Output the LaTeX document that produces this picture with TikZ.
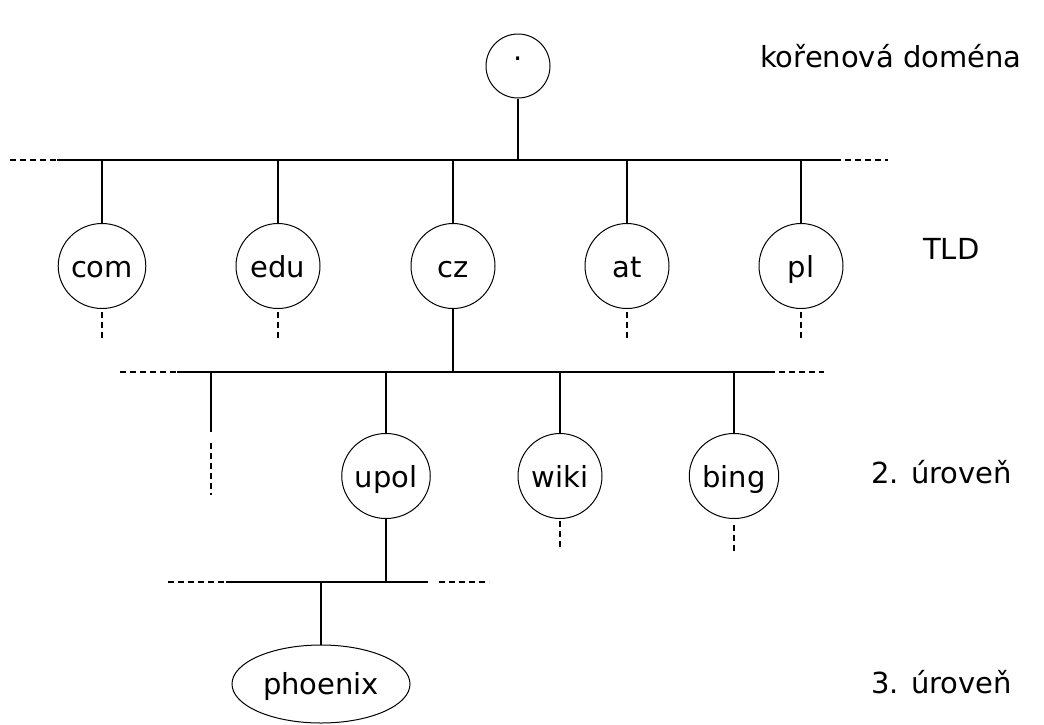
\documentclass[tikz,border=0pt]{standalone}
\usepackage{fontspec}
\setmainfont{DejaVu Sans}
\usetikzlibrary{shapes.geometric}
\begin{document}
\begin{tikzpicture}[x=1pt,y=-1pt,
  dom/.style={draw, ellipse, line width=1pt, minimum width=84pt, minimum height=85pt, inner sep=0pt, text height=24pt, text depth=2pt, font=\fontsize{29}{32}\selectfont},
  lbl/.style={anchor=west, inner sep=0pt, font=\fontsize{29}{32}\selectfont},
  ln/.style={line width=1.6pt},
  dsh/.style={line width=1.6pt, dash pattern=on 6pt off 4pt}]
\useasboundingbox (0,0) rectangle (1044,724);
% nodes
\node[dom, minimum height=64pt, minimum width=64pt, text height=0pt, text depth=11pt] (root) at (518,66) {.};
\node[dom] (com) at (102,266) {com};
\node[dom] (edu) at (278,266) {edu};
\node[dom] (cz)  at (453,266) {cz};
\node[dom] (at)  at (627,266) {at};
\node[dom] (pl)  at (801,266) {pl};
\node[dom] (upol) at (386,476) {upol};
\node[dom] (wiki) at (560,476) {wiki};
\node[dom] (bing) at (734,476) {bing};
\node[dom, minimum width=178pt, minimum height=78pt, text height=22pt] (phoenix) at (321,684) {phoenix};
% labels
\node[lbl] (l0) at (760,56) {kořenová doména};
\node[lbl] (l1) at (923,249) {TLD};
\node[lbl] (l2) at (871,472) {2. úroveň};
\node[lbl] (l3) at (871,682) {3. úroveň};
% bus 1
\coordinate (b1l) at (57,160); \coordinate (b1r) at (835,160);
\coordinate (b1ld) at (10,160); \coordinate (b1rd) at (888,160);
\coordinate (b1root) at (518,160);
\draw[ln] (b1l) -- (b1r);
\draw[dsh] (b1ld) -- (b1l);
\draw[dsh] (b1r) -- (b1rd);
\draw[ln] (root) -- (b1root);
\foreach \n in {com,edu,cz,at,pl}{
  \draw[ln] (\n.north) -- (\n.north |- b1l);
}
\foreach \n in {com,edu,at,pl}{
  \coordinate (\n-s) at ([yshift=-3pt]\n.south);
  \coordinate (\n-e) at ([yshift=-31pt]\n.south);
  \draw[dsh] (\n-s) -- (\n-e);
}
% bus 2
\coordinate (b2l) at (177,372); \coordinate (b2r) at (769,372);
\coordinate (b2ld) at (120,372); \coordinate (b2rd) at (824,372);
\draw[ln] (b2l) -- (b2r);
\draw[dsh] (b2ld) -- (b2l);
\draw[dsh] (b2r) -- (b2rd);
\draw[ln] (cz.south) -- (cz.south |- b2l);
\foreach \n in {upol,wiki,bing}{
  \draw[ln] (\n.north) -- (\n.north |- b2l);
}
\coordinate (x1) at (211,372); \coordinate (x1e) at (211,432);
\coordinate (x1d) at (211,443); \coordinate (x1de) at (211,495);
\draw[ln] (x1) -- (x1e);
\draw[dsh] (x1d) -- (x1de);
\coordinate (wiki-s) at ([yshift=-2pt]wiki.south);
\coordinate (wiki-e) at ([yshift=-31pt]wiki.south);
\draw[dsh] (wiki-s) -- (wiki-e);
\coordinate (bing-s) at ([yshift=-6pt]bing.south);
\coordinate (bing-e) at ([yshift=-35pt]bing.south);
\draw[dsh] (bing-s) -- (bing-e);
% bus 3
\coordinate (b3l) at (226,582); \coordinate (b3r) at (428,582);
\coordinate (b3ld) at (168,582); \coordinate (b3lde) at (224,582);
\coordinate (b3rd) at (439,582); \coordinate (b3rde) at (489,582);
\draw[ln] (b3l) -- (b3r);
\draw[dsh] (b3ld) -- (b3lde);
\draw[dsh] (b3rd) -- (b3rde);
\draw[ln] (upol.south) -- (upol.south |- b3l);
\draw[ln] (phoenix.north) -- (phoenix.north |- b3l);
\end{tikzpicture}
\end{document}
